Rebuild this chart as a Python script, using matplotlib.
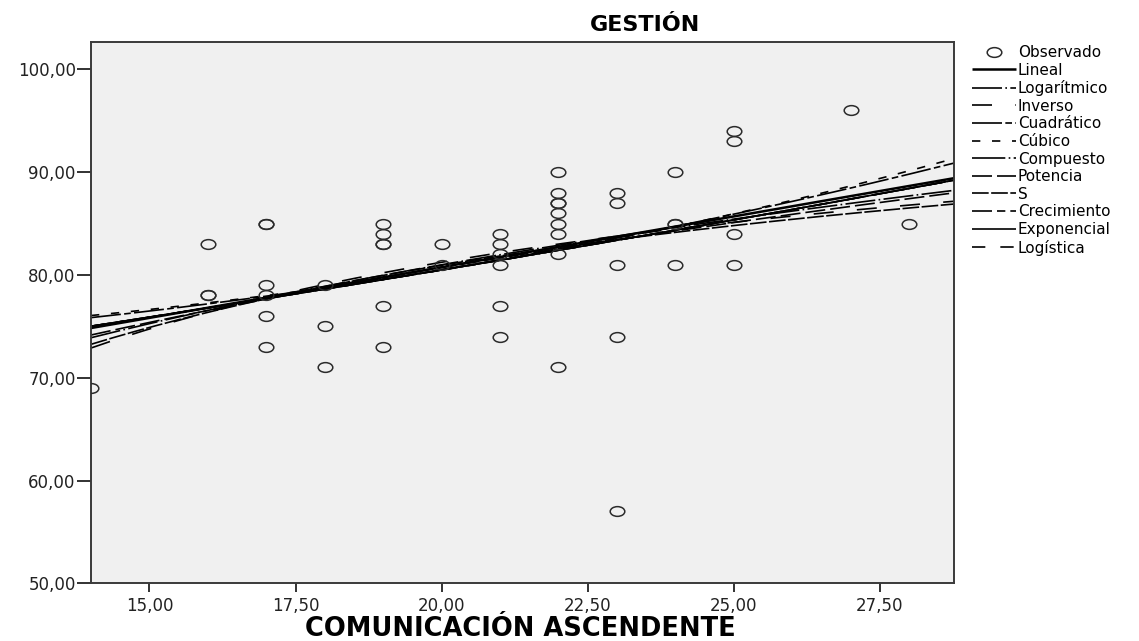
import numpy as np
import matplotlib
matplotlib.use("Agg")
import matplotlib.pyplot as plt
from matplotlib.path import Path
from matplotlib.transforms import Affine2D

# observed cases: COMUNICACIÓN ASCENDENTE (x) vs GESTIÓN (y)
comunicacion = [14,
                16, 16, 16,
                17, 17, 17, 17, 17, 17,
                18, 18, 18,
                19, 19, 19, 19, 19, 19,
                20, 20,
                21, 21, 21, 21, 21, 21,
                22, 22, 22, 22, 22, 22, 22, 22, 22,
                23, 23, 23, 23, 23,
                24, 24, 24, 24,
                25, 25, 25, 25,
                27,
                28]
gestion = [69,
           83, 78, 78,
           85, 85, 79, 78, 76, 73,
           79, 75, 71,
           85, 84, 83, 83, 77, 73,
           83, 81,
           84, 83, 82, 81, 77, 74,
           90, 88, 87, 87, 86, 85, 84, 82, 71,
           88, 87, 81, 74, 57,
           90, 85, 85, 81,
           94, 93, 84, 81,
           96,
           85]

modelos = ["Lineal", "Logarítmico", "Inverso", "Cuadrático", "Cúbico",
           "Compuesto", "Potencia", "S", "Crecimiento", "Exponencial",
           "Logística"]

x_ticks = [15.0, 17.5, 20.0, 22.5, 25.0, 27.5]
y_ticks = [50, 60, 70, 80, 90, 100]

x = np.array(comunicacion, dtype=float)
y = np.array(gestion, dtype=float)


def lsq(cols, target):
    A = np.column_stack([np.ones_like(cols[0])] + list(cols))
    coef, *_ = np.linalg.lstsq(A, target, rcond=None)
    return coef


def curve_fits(xs):
    """Least-squares fits for each curve-estimation model, evaluated on xs."""
    out = {}
    b = np.polyfit(x, y, 1)
    out["Lineal"] = np.polyval(b, xs)
    b = np.polyfit(np.log(x), y, 1)
    out["Logarítmico"] = np.polyval(b, np.log(xs))
    b = np.polyfit(1 / x, y, 1)
    out["Inverso"] = np.polyval(b, 1 / xs)
    b = np.polyfit(x, y, 2)
    out["Cuadrático"] = np.polyval(b, xs)
    # linear term dropped from the cubic (collinear with x^2, x^3)
    c = lsq([x ** 2, x ** 3], y)
    out["Cúbico"] = c[0] + c[1] * xs ** 2 + c[2] * xs ** 3
    # compound / growth / exponential / logistic share ln(y) linear in x
    b = np.polyfit(x, np.log(y), 1)
    expo = np.exp(np.polyval(b, xs))
    out["Compuesto"] = expo
    out["Crecimiento"] = expo
    out["Exponencial"] = expo
    b = np.polyfit(x, -np.log(y), 1)
    out["Logística"] = 1 / np.exp(np.polyval(b, xs))
    b = np.polyfit(np.log(x), np.log(y), 1)
    out["Potencia"] = np.exp(np.polyval(b, np.log(xs)))
    b = np.polyfit(1 / x, np.log(y), 1)
    out["S"] = np.exp(np.polyval(b, 1 / xs))
    return out


estilos = {
    "Lineal": dict(ls="-", lw=1.8),
    "Logarítmico": dict(ls=(0, (18, 2, 1, 2)), lw=1.2),
    "Inverso": dict(ls=(0, (12, 14)), lw=1.2),
    "Cuadrático": dict(ls=(0, (18, 2, 4, 2)), lw=1.2),
    "Cúbico": dict(ls=(0, (5, 7)), lw=1.2),
    "Compuesto": dict(ls=(0, (20, 2, 1, 2)), lw=1.2),
    "Potencia": dict(ls=(0, (12, 3)), lw=1.2),
    "S": dict(ls=(0, (10, 1.5)), lw=1.2),
    "Crecimiento": dict(ls=(0, (12, 3, 5, 3)), lw=1.2),
    "Exponencial": dict(ls="-", lw=1.2),
    "Logística": dict(ls=(0, (8, 9)), lw=1.2),
}

# oval marker, wider than tall
ovalo = Path.unit_circle().transformed(Affine2D().scale(1.5, 1.0))

fig = plt.figure(figsize=(11.39, 6.41), dpi=100)
ax = fig.add_axes([0.0799, 0.09, 0.7577, 0.844])
ax.set_facecolor("#f0f0f0")

xlim = (14.0, 28.77)
ax.set_xlim(*xlim)
ax.set_ylim(50, 102.63)

ax.plot(x, y, ls="none", marker=ovalo, ms=10.5, mfc="none", mec="#2b2b2b",
        mew=1.1, label="Observado", zorder=3)

xs = np.linspace(xlim[0], xlim[1], 200)
fits = curve_fits(xs)
for nombre in modelos:
    ax.plot(xs, fits[nombre], color="black", label=nombre,
            solid_capstyle="butt", dash_capstyle="butt", **estilos[nombre])

ax.set_xticks(x_ticks)
ax.set_yticks(y_ticks)
fmt = lambda v: f"{v:.2f}".replace(".", ",")
ax.set_xticklabels([fmt(v) for v in x_ticks])
ax.set_yticklabels([fmt(v) for v in y_ticks])
ax.tick_params(axis="x", length=6.5, width=1.3, pad=3, labelsize=12,
               colors="#222222")
ax.tick_params(axis="y", length=10, width=1.3, pad=1, labelsize=12,
               colors="#222222")
for s in ax.spines.values():
    s.set_color("#3a3a3a")
    s.set_linewidth(1.4)

fig.text(0.566, 0.961, "GESTIÓN", ha="center", va="center",
         fontsize=16, fontweight="bold")
fig.text(0.457, 0.019, "COMUNICACIÓN ASCENDENTE", ha="center", va="center",
         fontsize=18.5, fontweight="bold")

ax.legend(loc="upper left", bbox_to_anchor=(972 / 1139, 1 - 45 / 641),
          bbox_transform=fig.transFigure, frameon=False, fontsize=11,
          handlelength=2.85, handletextpad=0.15, labelspacing=0.17,
          borderpad=0, borderaxespad=0)

fig.savefig("out.png", dpi=100)
